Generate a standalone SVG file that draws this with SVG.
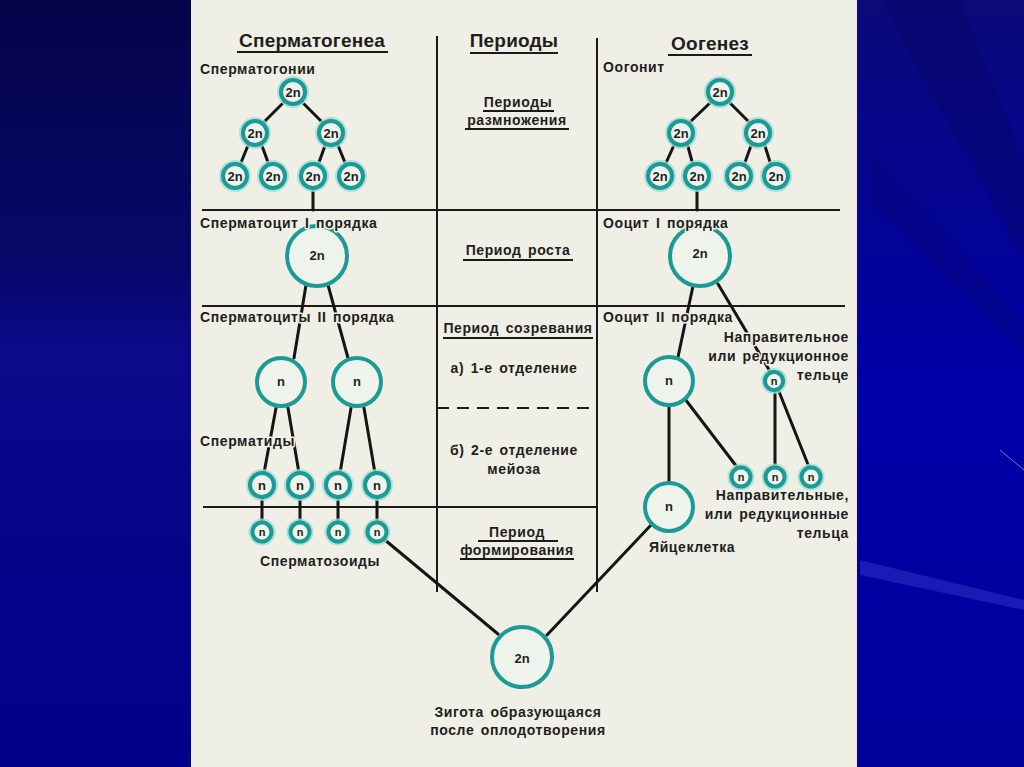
<svg xmlns="http://www.w3.org/2000/svg" width="1024" height="767" viewBox="0 0 1024 767">
<defs>
<linearGradient id="bgL" x1="0" y1="0" x2="0" y2="1">
<stop offset="0" stop-color="#05054a"/>
<stop offset="0.35" stop-color="#07076a"/>
<stop offset="0.45" stop-color="#0a0a8a"/>
<stop offset="1" stop-color="#00008a"/>
</linearGradient>
<linearGradient id="bgR" x1="0" y1="0" x2="0" y2="1">
<stop offset="0" stop-color="#0a0a7a"/>
<stop offset="0.5" stop-color="#0000a8"/>
<stop offset="1" stop-color="#00009a"/>
</linearGradient>
<style>
.t{font-family:"Liberation Sans",Arial,sans-serif;font-weight:bold;fill:#1e1e1e;font-size:14px;letter-spacing:0.6px;word-spacing:2px;paint-order:stroke;stroke:#efefe5;stroke-width:3px;stroke-linejoin:round}
.h{font-size:19px;letter-spacing:0.2px}
.m{text-anchor:middle}
.e{text-anchor:end}
.c{font-family:"Liberation Sans",Arial,sans-serif;font-weight:bold;fill:#1e1e1e;text-anchor:middle;dominant-baseline:central}
.ring{fill:#eef3ec;stroke:#1b9a96;stroke-width:4}
.glow{fill:none;stroke:#9fdcd6;stroke-width:8;opacity:0.8}
.ln{stroke:#151515;stroke-width:3;fill:none;stroke-linecap:round}
.rule{stroke:#1a1a1a;stroke-width:2;fill:none}
.ul{stroke:#1a1a1a;stroke-width:2.2}
</style>
</defs>
<rect x="0" y="0" width="1024" height="767" fill="url(#bgL)"/>
<rect x="856" y="0" width="168" height="767" fill="url(#bgR)"/>
<path d="M880 0 L960 0 L1024 160 L1024 260 Z" fill="#06066a" opacity="0.45"/>
<path d="M870 150 L1024 320 L1024 360 L870 200 Z" fill="#05057a" opacity="0.35"/>
<path d="M860 560 L1024 600 L1024 610 L860 575 Z" fill="#3a3acc" opacity="0.45"/>
<path d="M1000 450 L1024 470" stroke="#aab" stroke-width="1" opacity="0.7"/>
<rect x="191" y="0" width="666" height="767" fill="#efefe5"/>

<g id="grid">
<line class="rule" x1="437" y1="36" x2="437" y2="592"/>
<line class="rule" x1="597" y1="38" x2="597" y2="592"/>
<line class="rule" x1="202" y1="210" x2="840" y2="210"/>
<line class="rule" x1="202" y1="306" x2="845" y2="306"/>
<line class="rule" x1="203" y1="507" x2="597" y2="507"/>
<line class="rule" x1="437" y1="408" x2="597" y2="408" stroke-dasharray="12,8"/>
</g>

<g id="headers">
<text class="t h m" x="312" y="47">Сперматогенеа</text>
<line class="ul" x1="237" y1="52" x2="388" y2="52"/>
<text class="t h m" x="514" y="47">Периоды</text>
<line class="ul" x1="470" y1="53" x2="558" y2="53"/>
<text class="t h m" x="710" y="50">Оогенез</text>
<line class="ul" x1="668" y1="55" x2="752" y2="55"/>
</g>

<g id="periods">
<text class="t m" x="518" y="107">Периоды</text>
<line class="ul" x1="483" y1="111" x2="554" y2="111"/>
<text class="t m" x="517" y="125">размножения</text>
<line class="ul" x1="465" y1="129" x2="569" y2="129"/>
<text class="t m" x="518" y="255">Период роста</text>
<line class="ul" x1="463" y1="260" x2="573" y2="260"/>
<text class="t m" x="518" y="333">Период созревания</text>
<line class="ul" x1="443" y1="338" x2="593" y2="338"/>
<text class="t m" x="514" y="373">а) 1-е отделение</text>
<text class="t m" x="514" y="455">б) 2-е отделение</text>
<text class="t m" x="514" y="474">мейоза</text>
<text class="t m" x="517" y="537">Период</text>
<line class="ul" x1="478" y1="541" x2="558" y2="541"/>
<text class="t m" x="517" y="555">формирования</text>
<line class="ul" x1="460" y1="559" x2="574" y2="559"/>
</g>

<g id="connectors">
<line class="ln" x1="285" y1="101" x2="263" y2="123"/>
<line class="ln" x1="301" y1="101" x2="323" y2="123"/>
<line class="ln" x1="249" y1="143" x2="240" y2="165"/>
<line class="ln" x1="261" y1="143" x2="269" y2="165"/>
<line class="ln" x1="326" y1="143" x2="318" y2="165"/>
<line class="ln" x1="337" y1="143" x2="346" y2="165"/>
<line class="ln" x1="313" y1="188" x2="313" y2="210"/>
<line class="ln" x1="306" y1="285" x2="294" y2="358"/>
<line class="ln" x1="328" y1="285" x2="348" y2="358"/>
<line class="ln" x1="276" y1="408" x2="264" y2="473"/>
<line class="ln" x1="288" y1="408" x2="299" y2="473"/>
<line class="ln" x1="351" y1="408" x2="340" y2="473"/>
<line class="ln" x1="364" y1="408" x2="375" y2="473"/>
<line class="ln" x1="262" y1="497" x2="262" y2="522"/>
<line class="ln" x1="300" y1="497" x2="300" y2="522"/>
<line class="ln" x1="338" y1="497" x2="338" y2="522"/>
<line class="ln" x1="377" y1="497" x2="377" y2="522"/>
<line class="ln" x1="385" y1="540" x2="498" y2="634"/>
<line class="ln" x1="652" y1="524" x2="547" y2="635"/>
<line class="ln" x1="712" y1="101" x2="689" y2="123"/>
<line class="ln" x1="728" y1="101" x2="750" y2="123"/>
<line class="ln" x1="675" y1="143" x2="665" y2="165"/>
<line class="ln" x1="687" y1="143" x2="693" y2="165"/>
<line class="ln" x1="752" y1="143" x2="744" y2="165"/>
<line class="ln" x1="764" y1="143" x2="771" y2="165"/>
<line class="ln" x1="697" y1="188" x2="697" y2="210"/>
<line class="ln" x1="693" y1="286" x2="678" y2="357"/>
<line class="ln" x1="718" y1="284" x2="771" y2="373"/>
<line class="ln" x1="669" y1="405" x2="669" y2="482"/>
<line class="ln" x1="685" y1="399" x2="737" y2="467"/>
<line class="ln" x1="775" y1="390" x2="775" y2="466"/>
<line class="ln" x1="778" y1="389" x2="809" y2="467"/>
</g>

<g id="sg-root"><circle class="glow" cx="293" cy="92" r="12"/><circle class="ring" cx="293" cy="92" r="12"/><text class="c" x="293" y="92" font-size="13">2n</text></g>
<g id="sg-l2a"><circle class="glow" cx="255" cy="133" r="12"/><circle class="ring" cx="255" cy="133" r="12"/><text class="c" x="255" y="133" font-size="13">2n</text></g>
<g id="sg-l2b"><circle class="glow" cx="331" cy="133" r="12"/><circle class="ring" cx="331" cy="133" r="12"/><text class="c" x="331" y="133" font-size="13">2n</text></g>
<g id="sg-l3a"><circle class="glow" cx="235" cy="176" r="12"/><circle class="ring" cx="235" cy="176" r="12"/><text class="c" x="235" y="176" font-size="13">2n</text></g>
<g id="sg-l3b"><circle class="glow" cx="273" cy="176" r="12"/><circle class="ring" cx="273" cy="176" r="12"/><text class="c" x="273" y="176" font-size="13">2n</text></g>
<g id="sg-l3c"><circle class="glow" cx="313" cy="176" r="12"/><circle class="ring" cx="313" cy="176" r="12"/><text class="c" x="313" y="176" font-size="13">2n</text></g>
<g id="sg-l3d"><circle class="glow" cx="351" cy="176" r="12"/><circle class="ring" cx="351" cy="176" r="12"/><text class="c" x="351" y="176" font-size="13">2n</text></g>

<g id="sc1"><circle class="ring" cx="317" cy="256" r="30"/><text class="c" x="317" y="255" font-size="13">2n</text></g>
<g id="sc2a"><circle class="ring" cx="281" cy="382" r="24"/><text class="c" x="281" y="381" font-size="13">n</text></g>
<g id="sc2b"><circle class="ring" cx="357" cy="382" r="24"/><text class="c" x="357" y="381" font-size="13">n</text></g>

<g id="st1"><circle class="glow" cx="262" cy="485" r="12"/><circle class="ring" cx="262" cy="485" r="12"/><text class="c" x="262" y="485" font-size="13">n</text></g>
<g id="st2"><circle class="glow" cx="300" cy="485" r="12"/><circle class="ring" cx="300" cy="485" r="12"/><text class="c" x="300" y="485" font-size="13">n</text></g>
<g id="st3"><circle class="glow" cx="338" cy="485" r="12"/><circle class="ring" cx="338" cy="485" r="12"/><text class="c" x="338" y="485" font-size="13">n</text></g>
<g id="st4"><circle class="glow" cx="377" cy="485" r="12"/><circle class="ring" cx="377" cy="485" r="12"/><text class="c" x="377" y="485" font-size="13">n</text></g>

<g id="sz1"><circle class="glow" cx="262" cy="532" r="9.5"/><circle class="ring" cx="262" cy="532" r="9.5"/><text class="c" x="262" y="532" font-size="11">n</text></g>
<g id="sz2"><circle class="glow" cx="300" cy="532" r="9.5"/><circle class="ring" cx="300" cy="532" r="9.5"/><text class="c" x="300" y="532" font-size="11">n</text></g>
<g id="sz3"><circle class="glow" cx="338" cy="532" r="9.5"/><circle class="ring" cx="338" cy="532" r="9.5"/><text class="c" x="338" y="532" font-size="11">n</text></g>
<g id="sz4"><circle class="glow" cx="377" cy="532" r="9.5"/><circle class="ring" cx="377" cy="532" r="9.5"/><text class="c" x="377" y="532" font-size="11">n</text></g>

<g id="og-root"><circle class="glow" cx="720" cy="92" r="12"/><circle class="ring" cx="720" cy="92" r="12"/><text class="c" x="720" y="92" font-size="13">2n</text></g>
<g id="og-l2a"><circle class="glow" cx="681" cy="133" r="12"/><circle class="ring" cx="681" cy="133" r="12"/><text class="c" x="681" y="133" font-size="13">2n</text></g>
<g id="og-l2b"><circle class="glow" cx="758" cy="133" r="12"/><circle class="ring" cx="758" cy="133" r="12"/><text class="c" x="758" y="133" font-size="13">2n</text></g>
<g id="og-l3a"><circle class="glow" cx="660" cy="176" r="12"/><circle class="ring" cx="660" cy="176" r="12"/><text class="c" x="660" y="176" font-size="13">2n</text></g>
<g id="og-l3b"><circle class="glow" cx="697" cy="176" r="12"/><circle class="ring" cx="697" cy="176" r="12"/><text class="c" x="697" y="176" font-size="13">2n</text></g>
<g id="og-l3c"><circle class="glow" cx="739" cy="176" r="12"/><circle class="ring" cx="739" cy="176" r="12"/><text class="c" x="739" y="176" font-size="13">2n</text></g>
<g id="og-l3d"><circle class="glow" cx="776" cy="176" r="12"/><circle class="ring" cx="776" cy="176" r="12"/><text class="c" x="776" y="176" font-size="13">2n</text></g>

<g id="oc1"><circle class="ring" cx="700" cy="256" r="30"/><text class="c" x="700" y="253" font-size="13">2n</text></g>
<g id="oc2"><circle class="ring" cx="669" cy="381" r="24"/><text class="c" x="669" y="380" font-size="13">n</text></g>
<g id="pb1"><circle class="glow" cx="774" cy="381" r="9"/><circle class="ring" cx="774" cy="381" r="9"/><text class="c" x="774" y="381" font-size="11">n</text></g>
<g id="pb2"><circle class="glow" cx="741" cy="477" r="9.5"/><circle class="ring" cx="741" cy="477" r="9.5"/><text class="c" x="741" y="477" font-size="11">n</text></g>
<g id="pb3"><circle class="glow" cx="775" cy="477" r="9.5"/><circle class="ring" cx="775" cy="477" r="9.5"/><text class="c" x="775" y="477" font-size="11">n</text></g>
<g id="pb4"><circle class="glow" cx="811" cy="477" r="9.5"/><circle class="ring" cx="811" cy="477" r="9.5"/><text class="c" x="811" y="477" font-size="11">n</text></g>
<g id="egg"><circle class="ring" cx="669" cy="507" r="24"/><text class="c" x="669" y="506" font-size="13">n</text></g>
<g id="zygote"><circle class="ring" cx="522" cy="657" r="30"/><text class="c" x="522" y="658" font-size="13">2n</text></g>

<g id="labels">
<text class="t" x="200" y="74">Сперматогонии</text>
<text class="t" x="603" y="72">Оогонит</text>
<text class="t" x="200" y="228">Сперматоцит I порядка</text>
<text class="t" x="603" y="228">Ооцит I порядка</text>
<text class="t" x="200" y="322">Сперматоциты II порядка</text>
<text class="t" x="603" y="322">Ооцит II порядка</text>
<text class="t e" x="849" y="342">Направительное</text>
<text class="t e" x="849" y="361">или редукционное</text>
<text class="t e" x="849" y="380">тельце</text>
<text class="t" x="200" y="446">Сперматиды</text>
<text class="t e" x="849" y="500">Направительные,</text>
<text class="t e" x="849" y="519">или редукционные</text>
<text class="t e" x="849" y="538">тельца</text>
<text class="t" x="260" y="566">Сперматозоиды</text>
<text class="t" x="649" y="552">Яйцеклетка</text>
<text class="t m" x="518" y="717">Зигота образующаяся</text>
<text class="t m" x="518" y="735">после оплодотворения</text>
</g>
</svg>
